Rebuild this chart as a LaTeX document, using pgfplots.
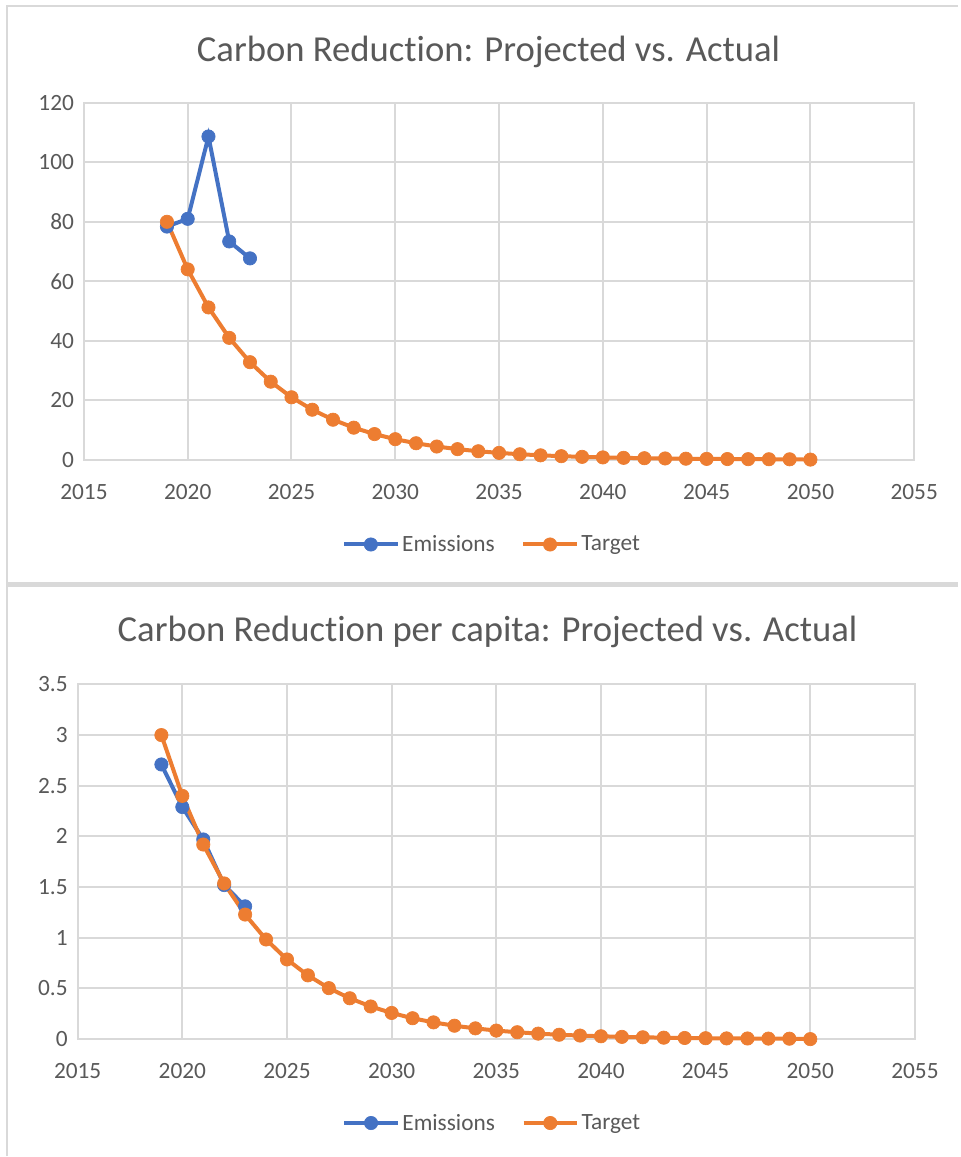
\documentclass[border=0pt]{standalone}
\usepackage{fontspec}
\setmainfont{Carlito}[Ligatures={NoCommon}]
\usepackage{pgfplots}
\pgfplotsset{compat=1.18}

\definecolor{exblue}{HTML}{4472C4}
\definecolor{exorange}{HTML}{ED7D31}
\definecolor{gridgray}{HTML}{D9D9D9}
\definecolor{txtgray}{HTML}{595959}

\pgfplotsset{
  excel/.style={
    scale only axis,
    clip=false,
    axis line style={gridgray, line width=1.5pt},
    grid=major,
    major grid style={gridgray, line width=1.5pt},
    major tick length=0pt,
    tick label style={font=\fontsize{17.5}{20}\selectfont, text=txtgray},
    /pgf/number format/assume math mode=true,
    /pgf/number format/1000 sep={},
    xmin=2015, xmax=2055,
    xtick={2015,2020,...,2055},
    xticklabel style={yshift=-15pt},
    yticklabel style={xshift=-4pt},
    legend columns=2,
    legend style={draw=none, fill=none, anchor=center,
      font=\fontsize{17.5}{20}\selectfont, text=txtgray,
      /tikz/every even column/.append style={column sep=18pt}},
    legend image code/.code={
      \draw[##1, mark repeat=2, mark phase=2]
        plot coordinates {(0pt,0pt) (20pt,0pt) (40pt,0pt)};
    },
  },
  emis/.style={exblue, line width=3pt, mark=*, mark size=5pt,
    mark options={line width=0.5pt, fill=exblue}},
  targ/.style={exorange, line width=3pt, mark=*, mark size=5pt,
    mark options={line width=0.5pt, fill=exorange}},
}

\begin{document}
\begin{tikzpicture}
% page frame, 959 x 1157 px at 0.75pt per px
\fill[white] (0,0) rectangle (719.25pt,867.75pt);
\draw[gridgray, line width=1.5pt] (5.25pt,0) -- (5.25pt,863.25pt) -- (719.25pt,863.25pt);
\draw[gridgray, line width=3.5pt] (5.25pt,429pt) -- (719.25pt,429pt);

% top chart
\begin{axis}[excel,
    at={(63pt,522.75pt)}, anchor=south west,
    width=623.25pt, height=267.75pt,
    ymin=0, ymax=120, ytick={0,20,...,120},
    legend style={at={(0.492,-0.238)}},
  ]
\addplot[emis] coordinates {
  (2019,78.4) (2020,81.0) (2021,108.7) (2022,73.4) (2023,67.7)
};
\addlegendentry{Emissions}
\addplot[targ] coordinates {
  (2019,80) (2020,64) (2021,51.2) (2022,40.96) (2023,32.77)
  (2024,26.21) (2025,20.97) (2026,16.78) (2027,13.42) (2028,10.74)
  (2029,8.59) (2030,6.87) (2031,5.50) (2032,4.40) (2033,3.52)
  (2034,2.81) (2035,2.25) (2036,1.80) (2037,1.44) (2038,1.15)
  (2039,0.92) (2040,0.74) (2041,0.59) (2042,0.47) (2043,0.38)
  (2044,0.30) (2045,0.24) (2046,0.19) (2047,0.15) (2048,0.12)
  (2049,0.10) (2050,0)
};
\addlegendentry{Target}
\end{axis}
\node[text=txtgray, font=\fontsize{27.5}{32}\selectfont] at (366.75pt,829pt)
  {Carbon Reduction: Projected vs. Actual};

% bottom chart
\begin{axis}[excel,
    at={(58.3pt,87.75pt)}, anchor=south west,
    width=628.5pt, height=266.25pt,
    ymin=0, ymax=3.5, ytick={0,0.5,...,3.5},
    yticklabel={\pgfmathprintnumber[fixed]{\tick}},
    legend style={at={(0.4956,-0.2366)}},
  ]
\addplot[emis] coordinates {
  (2019,2.71) (2020,2.29) (2021,1.97) (2022,1.52) (2023,1.31)
};
\addlegendentry{Emissions}
\addplot[targ] coordinates {
  (2019,3.0) (2020,2.4) (2021,1.92) (2022,1.536) (2023,1.229)
  (2024,0.983) (2025,0.786) (2026,0.629) (2027,0.503) (2028,0.403)
  (2029,0.322) (2030,0.258) (2031,0.206) (2032,0.165) (2033,0.132)
  (2034,0.106) (2035,0.084) (2036,0.068) (2037,0.054) (2038,0.043)
  (2039,0.035) (2040,0.028) (2041,0.022) (2042,0.018) (2043,0.014)
  (2044,0.011) (2045,0.009) (2046,0.007) (2047,0.006) (2048,0.005)
  (2049,0.004) (2050,0)
};
\addlegendentry{Target}
\end{axis}
\node[text=txtgray, font=\fontsize{27.5}{32}\selectfont] at (366pt,393.5pt)
  {Carbon Reduction per capita: Projected vs. Actual};
\end{tikzpicture}
\end{document}
